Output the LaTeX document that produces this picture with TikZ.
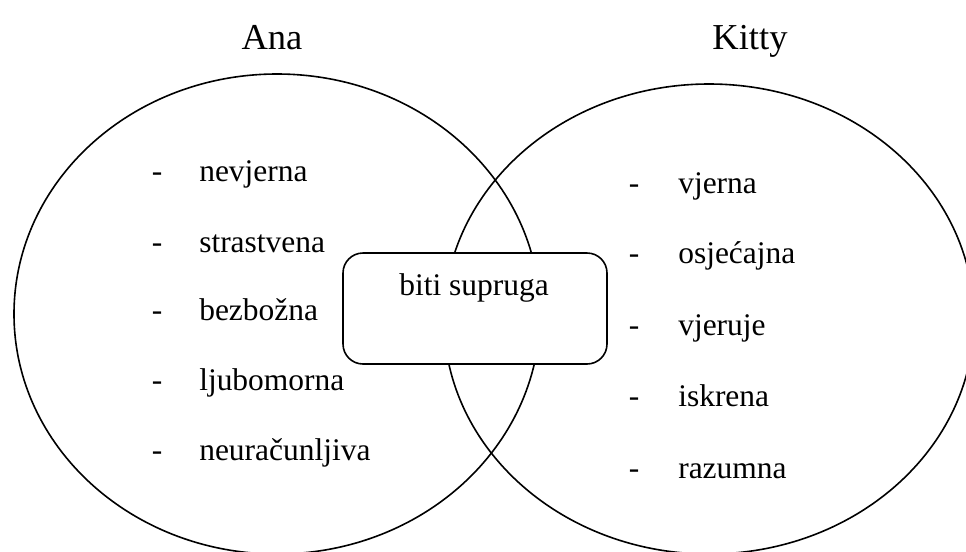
\documentclass[tikz,border=0pt]{standalone}
\usepackage{fontspec}
\setmainfont{Liberation Serif}
\newfontfamily\tnrfont{Liberation Serif}
\usetikzlibrary{shapes.geometric}
\begin{document}
\begin{tikzpicture}[x=0.75pt,y=-0.75pt,
  setshape/.style={draw, ellipse, line width=1.2pt, inner sep=0pt},
  item/.style={anchor=base west, inner sep=0pt, font=\tnrfont\fontsize{23.6}{28}\selectfont},
  dashmark/.style={anchor=base, inner sep=0pt, font=\tnrfont\fontsize{23.6}{28}\selectfont},
  titletext/.style={anchor=base, inner sep=0pt, font=\tnrfont\fontsize{27.4}{32}\selectfont},
  sharedbox/.style={draw, fill=white, line width=1.2pt, rounded corners=15pt, inner sep=0pt,
    minimum width=198pt, minimum height=83.25pt}]
\useasboundingbox (0,0) rectangle (966,551);
\clip (0,0) rectangle (966,551);
\fill[white] (0,0) rectangle (966,551);
% sets
\node[setshape, minimum width=394.5pt, minimum height=360pt] (anaset) at (277,314) {};
\node[setshape, minimum width=397.5pt, minimum height=352.5pt] (kittyset) at (709,319) {};
% titles
\node[titletext] (anatitle) at (272,49) {Ana};
\node[titletext] (kittytitle) at (750,49) {Kitty};
% shared box
\node[sharedbox] (common) at (475,308.5) {};
\node[anchor=base, inner sep=0pt, font=\tnrfont\fontsize{23.6}{28}\selectfont] (commontext) at (474,295) {biti supruga};
% Ana list
\node[dashmark] (ad1) at (157,181) {-};
\node[item] (a1) at (199,181) {nevjerna};
\node[dashmark] (ad2) at (157,252) {-};
\node[item] (a2) at (199,252) {strastvena};
\node[dashmark] (ad3) at (157,320) {-};
\node[item] (a3) at (199,320) {bezbožna};
\node[dashmark] (ad4) at (157,390) {-};
\node[item] (a4) at (199,390) {ljubomorna};
\node[dashmark] (ad5) at (157,460) {-};
\node[item] (a5) at (199,460) {neuračunljiva};
% Kitty list
\node[dashmark] (kd1) at (634,193) {-};
\node[item] (k1) at (678,193) {vjerna};
\node[dashmark] (kd2) at (634,263) {-};
\node[item] (k2) at (678,263) {osjećajna};
\node[dashmark] (kd3) at (634,335) {-};
\node[item] (k3) at (678,335) {vjeruje};
\node[dashmark] (kd4) at (634,406) {-};
\node[item] (k4) at (678,406) {iskrena};
\node[dashmark] (kd5) at (634,478) {-};
\node[item] (k5) at (678,478) {razumna};
\end{tikzpicture}
\end{document}
